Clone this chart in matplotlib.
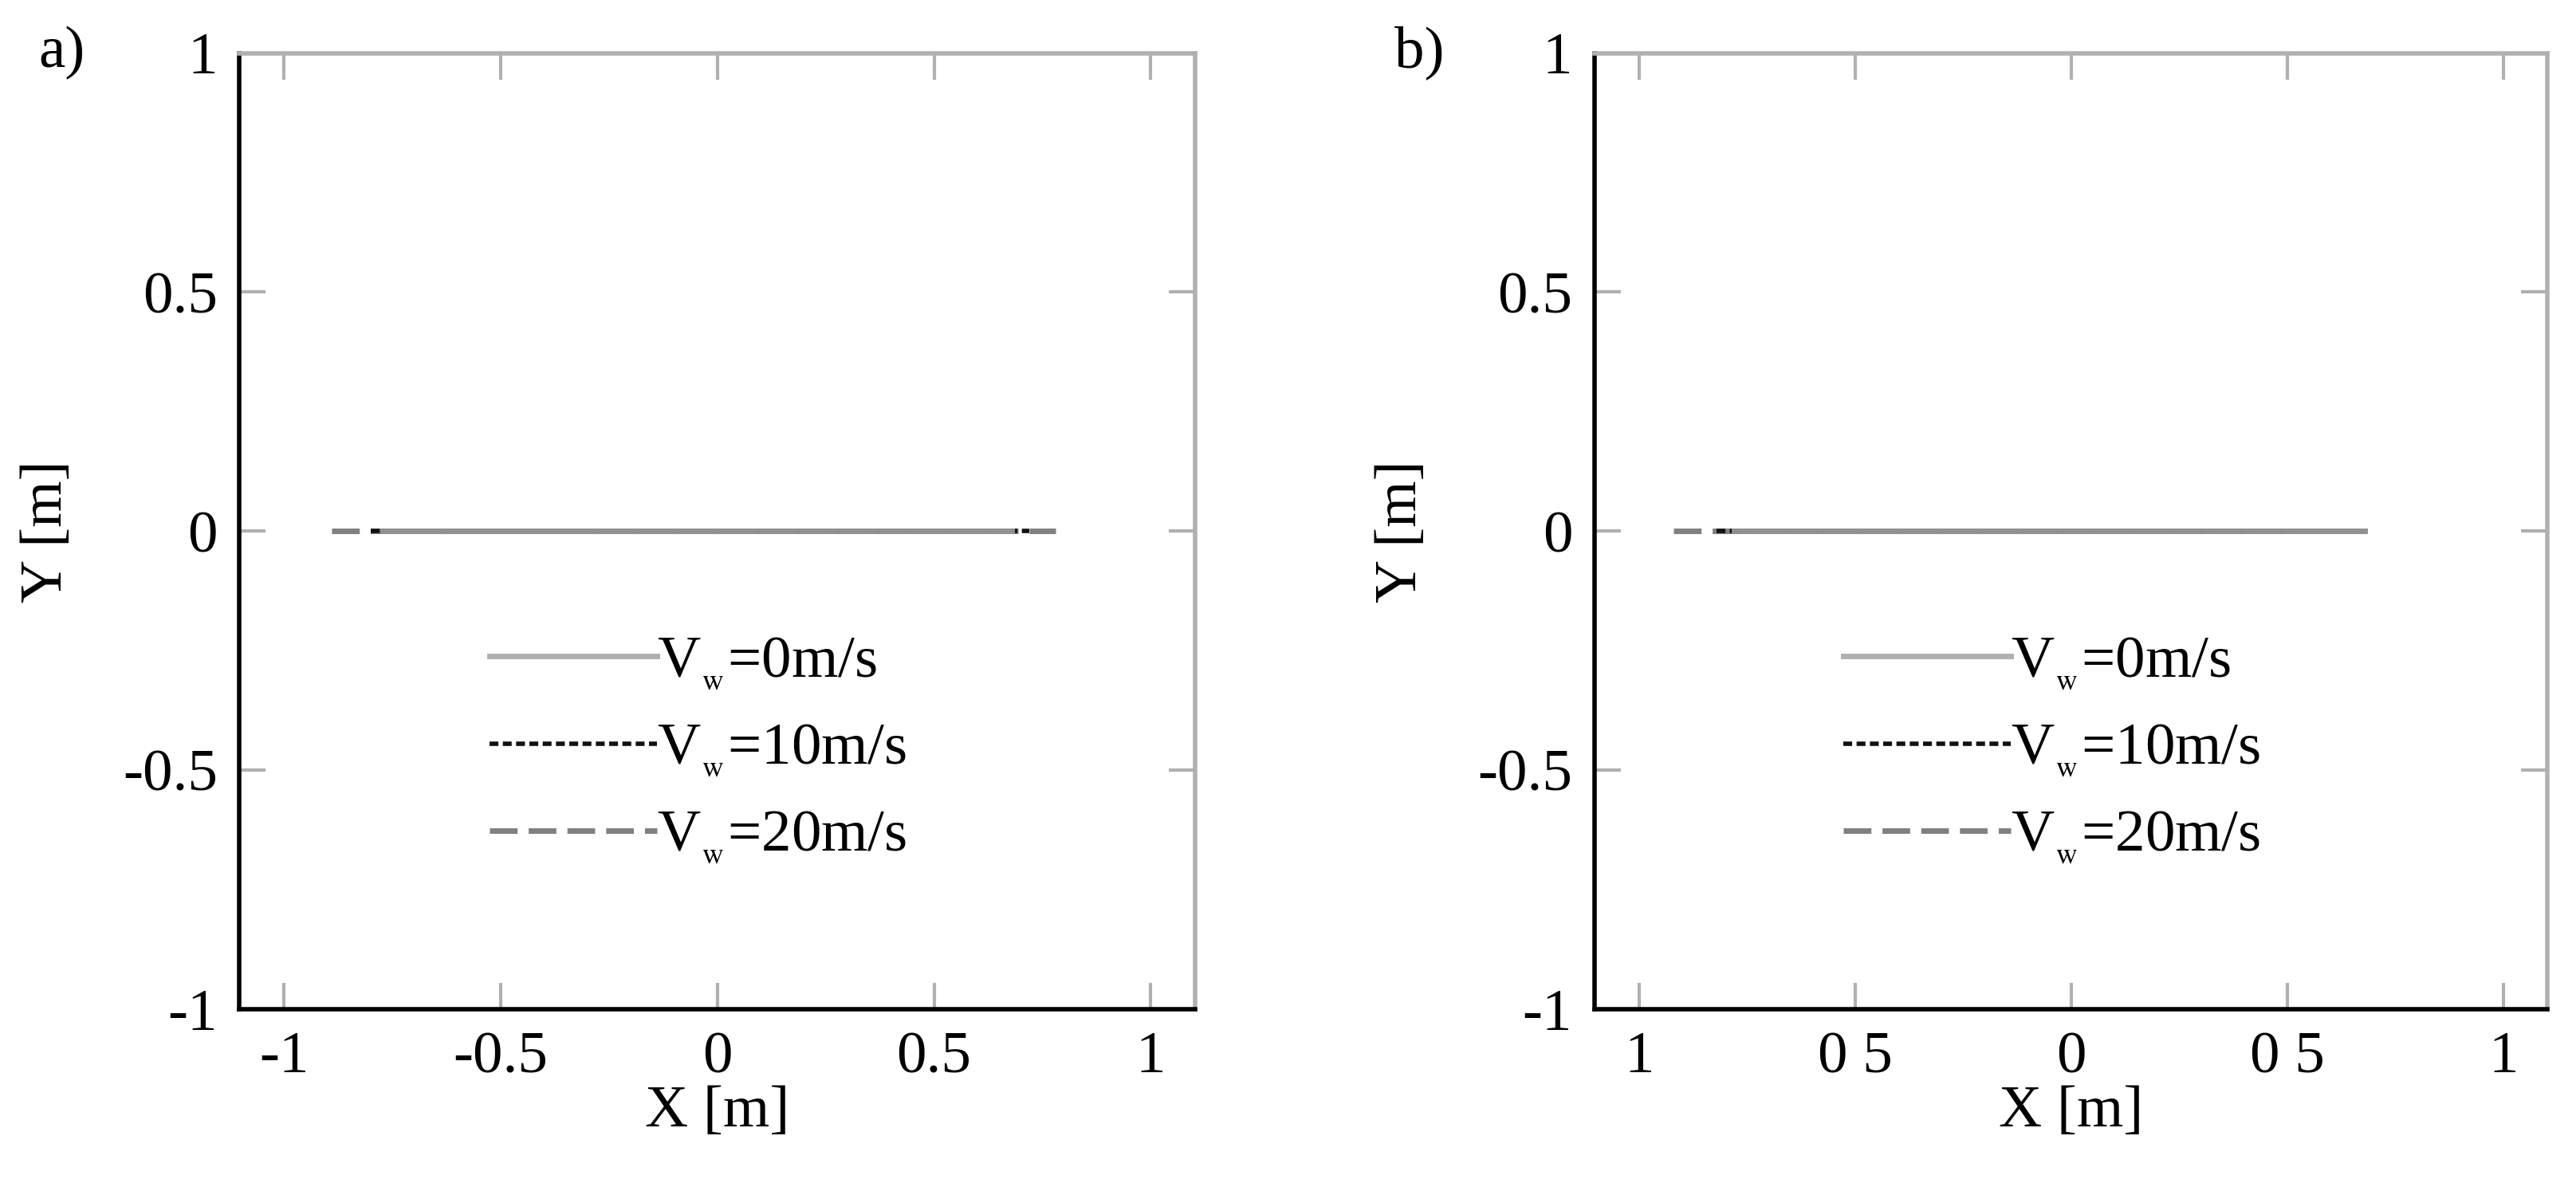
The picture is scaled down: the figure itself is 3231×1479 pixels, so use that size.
import matplotlib
matplotlib.use("Agg")
import matplotlib.pyplot as plt

plt.rcParams['font.family'] = ['Liberation Serif', 'DejaVu Serif']
plt.rcParams['mathtext.fontset'] = 'stix'

labels = ["V$_{_{\\mathrm{w}}}$=0m/s", "V$_{_{\\mathrm{w}}}$=10m/s", "V$_{_{\\mathrm{w}}}$=20m/s"]
# x extents of each trajectory (y = 0)
a_x0 = [-0.77, 0.68]
a_x10 = [-0.80, 0.72]
a_x20 = [-0.89, 0.78]
b_x0 = [-0.78, 0.68]
b_x10 = [-0.82, 0.67]
b_x20 = [-0.92, 0.68]
a_y = [0, 0]
b_y = [0, 0]
xticks = [-1, -0.5, 0, 0.5, 1]
a_xticklabels = ["-1", "-0.5", "0", "0.5", "1"]
b_xticklabels = ["1", "0 5", "0", "0 5", "1"]
yticks = [-1, -0.5, 0, 0.5, 1]
yticklabels = ["-1", "-0.5", "0", "0.5", "1"]

fig = plt.figure(figsize=(16.155, 7.395), dpi=200)
axa = fig.add_axes([0.093, 0.144, 0.371, 0.811])
axb = fig.add_axes([0.619, 0.144, 0.370, 0.811])

fs = 27
for ax, (x0, x10, x20), y, xtl, tag in [
        (axa, (a_x0, a_x10, a_x20), a_y, a_xticklabels, "a)"),
        (axb, (b_x0, b_x10, b_x20), b_y, b_xticklabels, "b)")]:
    ax.plot(x20, y, color="#808080", lw=2.5, ls=(0, (5, 2)), label=labels[2])
    ax.plot(x10, y, color="#111111", lw=2.0, ls=(0, (2, 1)), label=labels[1])
    ax.plot(x0, y, color="#909090", lw=2.5, ls="-", label=labels[0])
    ax.set_xlim(-1.103, 1.103)
    ax.set_ylim(-1, 1)
    ax.set_xticks(xticks)
    ax.set_xticklabels(xtl, fontsize=fs)
    ax.set_yticks(yticks)
    ax.set_yticklabels(yticklabels, fontsize=fs)
    ax.tick_params(direction="in", length=12, color="#b0b0b0", top=True, right=True, width=1.5, pad=10)
    ax.spines["left"].set_color("black")
    ax.spines["bottom"].set_color("black")
    ax.spines["top"].set_color("#b0b0b0")
    ax.spines["right"].set_color("#b0b0b0")
    for s in ax.spines.values():
        s.set_linewidth(2)
    ax.set_xlabel("X [m]", fontsize=fs, labelpad=0)
    ax.set_ylabel("Y [m]", fontsize=fs, labelpad=22)
    h, l = ax.get_legend_handles_labels()
    leg = ax.legend(h[::-1], l[::-1], loc="center", bbox_to_anchor=(0.48, 0.27), frameon=False,
                    fontsize=fs, handlelength=2.8, handletextpad=0.0, labelspacing=0.5)
    leg.get_lines()[0].set_color("#b0b0b0")
    ax.text(-0.21, 1.0, tag, transform=ax.transAxes, fontsize=fs, va="center", ha="left")

fig.savefig("out.png", dpi=200)
